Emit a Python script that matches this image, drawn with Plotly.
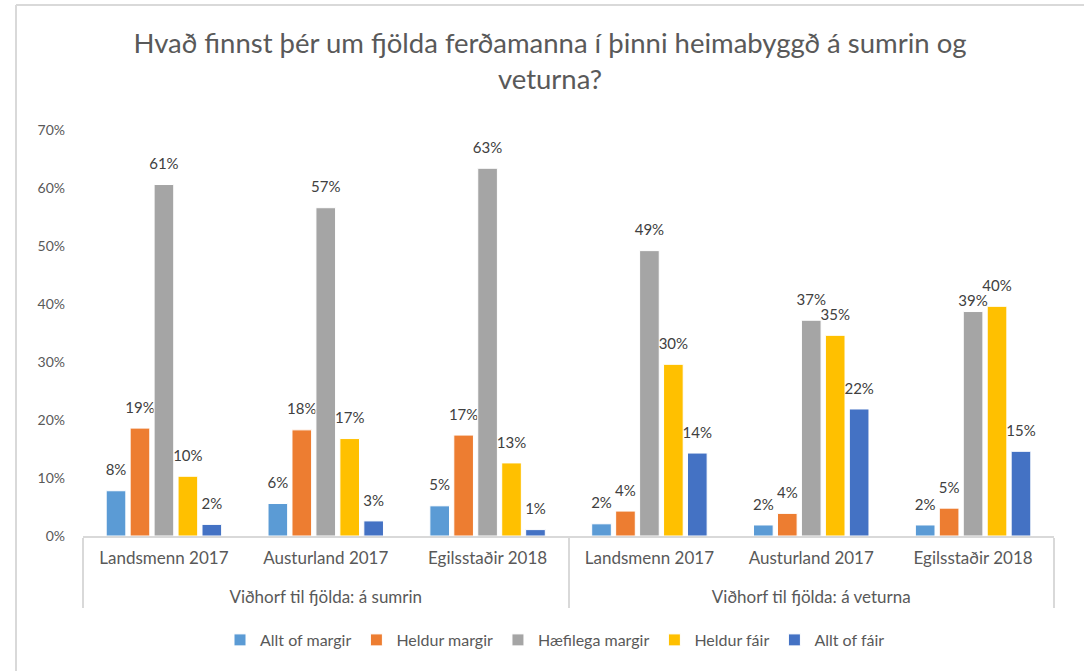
import plotly.graph_objects as go

season = ["Viðhorf til fjölda: á sumrin"] * 3 + ["Viðhorf til fjölda: á veturna"] * 3
groups = ["Landsmenn 2017", "Austurland 2017", "Egilsstaðir 2018"] * 2

series_names = ["Allt of margir", "Heldur margir", "Hæfilega margir", "Heldur fáir", "Allt of fáir"]
allt_of_margir = [0.078, 0.056, 0.052, 0.021, 0.019, 0.019]
heldur_margir = [0.186, 0.183, 0.174, 0.043, 0.039, 0.048]
haefilega_margir = [0.606, 0.566, 0.634, 0.492, 0.372, 0.387]
heldur_fair = [0.103, 0.168, 0.126, 0.296, 0.346, 0.396]
allt_of_fair = [0.020, 0.026, 0.011, 0.143, 0.219, 0.146]
colors = ["#5B9BD5", "#ED7D31", "#A5A5A5", "#FFC000", "#4472C4"]

values = [allt_of_margir, heldur_margir, haefilega_margir, heldur_fair, allt_of_fair]

FONT = "Lato, 'Open Sans', sans-serif"
GREY = "#595959"

# display labels: inner level gets an empty second line so the outer level sits lower
inner_labels = [g + "<br> " for g in groups]
outer_labels = list(season)

LBL = "<span style='font-size:15px'>%{y:.0%}</span>"

fig = go.Figure()
for name, vals, col in zip(series_names, values, colors):
    templates = [LBL + "<br> "] * len(vals)
    if name == "Hæfilega margir":
        templates[-1] = LBL  # this label sits closer to its bar in the reference
    fig.add_trace(go.Bar(
        name=name,
        x=[outer_labels, inner_labels],
        y=vals,
        marker=dict(color=col, line=dict(color="white", width=1)),
        texttemplate=templates,
        textposition="outside",
        constraintext="none",
        cliponaxis=False,
        textfont=dict(family=FONT, size=8, color="#404040"),
        hoverinfo="skip",
    ))

L, R, T, B = 83, 1054, 130, 536
PW, PH = R - L, B - T

fig.update_layout(
    width=1084, height=671,
    paper_bgcolor="white", plot_bgcolor="white",
    margin=dict(l=L, r=1084 - R, t=T, b=671 - B, autoexpand=False),
    barmode="group", bargap=0.26, bargroupgap=0.18,
    font=dict(family=FONT, color=GREY),
    title=dict(
        text="Hvað finnst þér um fjölda ferðamanna í þinni heimabyggð á sumrin og<br>veturna?",
        x=550 / 1084, xanchor="center", xref="container",
        y=1 - 53 / 671, yanchor="middle", yref="container",
        font=dict(family=FONT, size=27.5, color=GREY),
    ),
    legend=dict(
        orientation="h", x=(555 - L) / PW, xanchor="center", xref="paper",
        y=-(640 - B) / PH, yanchor="middle",
        font=dict(family=FONT, size=16, color=GREY),
        itemwidth=30, traceorder="normal",
    ),
    showlegend=True,
)

fig.update_yaxes(
    range=[0, 0.7], dtick=0.1, tickformat=".0%",
    showgrid=False, zeroline=False, showline=False,
    tickfont=dict(family=FONT, size=14, color=GREY),
    ticklabelstandoff=17,
)
fig.update_xaxes(
    showline=True, linecolor="#d9d9d9", linewidth=1.5,
    showdividers=True, dividercolor="#d9d9d9", dividerwidth=1.5,
    tickfont=dict(family=FONT, size=17, color=GREY),
    ticklabelstandoff=6,
    showgrid=False,
)

# outer chart border (left and top)
fig.add_shape(type="line", xref="paper", yref="paper",
              x0=(16 - L) / PW, x1=(1084 - L) / PW,
              y0=(B - 5) / PH, y1=(B - 5) / PH,
              line=dict(color="#d9d9d9", width=2))
fig.add_shape(type="line", xref="paper", yref="paper",
              x0=(16 - L) / PW, x1=(16 - L) / PW,
              y0=(B - 5) / PH, y1=(B - 671) / PH,
              line=dict(color="#d9d9d9", width=2))

fig.write_html("out.html", config={"displayModeBar": False},
               post_script="document.body.style.margin='0';")
